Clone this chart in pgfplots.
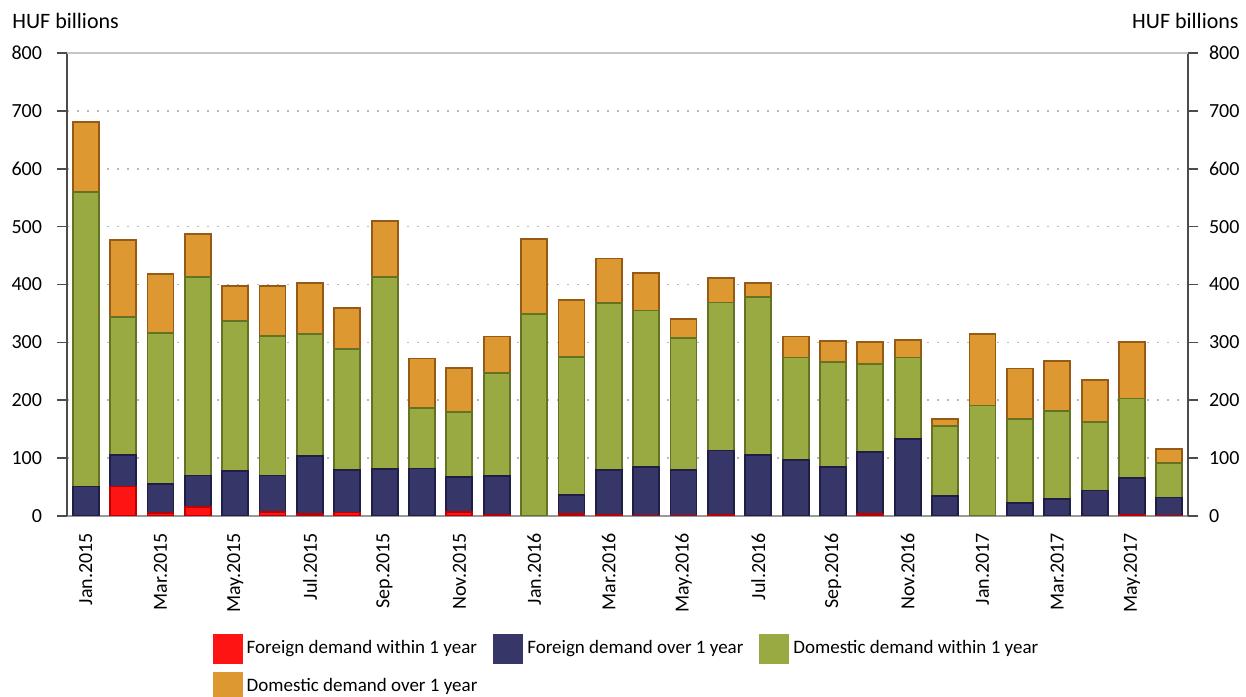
\documentclass[border=0pt]{standalone}
\usepackage{pgfplots}
\pgfplotsset{compat=1.18}
\usepackage{pgfplotstable}
\usepackage{fontspec}
\setmainfont{Carlito}

\definecolor{cred}{RGB}{255,20,20}
\definecolor{credd}{RGB}{190,0,0}
\definecolor{cnavy}{RGB}{55,54,104}
\definecolor{cnavyd}{RGB}{30,30,70}
\definecolor{cgreen}{RGB}{153,170,66}
\definecolor{cgreend}{RGB}{100,115,35}
\definecolor{corange}{RGB}{221,152,50}
\definecolor{coranged}{RGB}{150,90,20}

\pgfplotstableread{
x R N G O
0 0 51 509 121
1 51 54 239 133
2 5 50 261 102
3 16 54 343 74
4 0 78 259 60
5 7 63 241 87
6 3 101 210 89
7 6 74 209 70
8 0 81 332 97
9 0 82 105 85
10 7 60 112 77
11 2 67 178 63
12 0 0 349 129
13 3 33 239 98
14 2 78 288 77
15 1 83 271 65
16 1 79 228 32
17 2 111 256 42
18 0 105 274 24
19 0 97 177 36
20 0 85 181 37
21 4 107 152 37
22 0 133 141 30
23 0 35 121 11
24 0 0 191 124
25 0 23 145 87
26 0 29 152 87
27 0 44 119 72
28 2 63 138 97
29 1 31 59 25
}\data

\pgfplotsset{
  legsq/.style={legend image code/.code={\fill[##1,draw=none] (0pt,-7.5pt) rectangle (15pt,7.5pt);}},
}

\begin{document}
\begin{tikzpicture}
\begin{axis}[
  scale only axis, width=560.5pt, height=231.5pt,
  ybar stacked, bar width=13pt,
  xmin=-0.5, xmax=29.5, ymin=0, ymax=800,
  axis x line*=bottom, axis y line*=left,
  x axis line style={gray!80, line width=0.8pt},
  y axis line style={black!70, line width=1pt},
  xtick={0,2,...,28},
  xticklabels={Jan.2015,Mar.2015,May.2015,Jul.2015,Sep.2015,Nov.2015,Jan.2016,Mar.2016,May.2016,Jul.2016,Sep.2016,Nov.2016,Jan.2017,Mar.2017,May.2017},
  xticklabel style={rotate=90, anchor=east, font=\fontsize{10}{12}\selectfont, yshift=0pt},
  xtick style={draw=none},
  ytick={0,100,...,800},
  tick align=outside, major tick length=5pt,
  ytick style={black!70, line width=0.8pt},
  yticklabel style={font=\fontsize{10}{12}\selectfont, xshift=-4pt},
  /pgf/number format/assume math mode=true,
  ymajorgrids,
  grid style={gray!55, line width=0.8pt, dash pattern=on 0.8pt off 4.2pt},
  legend columns=3, legend cell align=left,
  legend style={draw=none, at={(0.5,-0.245)}, anchor=north,
    font=\fontsize{9.5}{11}\selectfont, row sep=4pt,
    /tikz/every even column/.append style={column sep=6pt}},
]
\addplot[fill=cred, draw=credd, line width=0.9pt, legsq] table[x=x,y=R] {\data};
\addlegendentry{Foreign demand within 1 year}
\addplot[fill=cnavy, draw=cnavyd, line width=0.9pt, legsq] table[x=x,y=N] {\data};
\addlegendentry{Foreign demand over 1 year}
\addplot[fill=cgreen, draw=cgreend, line width=0.9pt, legsq] table[x=x,y=G] {\data};
\addlegendentry{Domestic demand within 1 year}
\addplot[fill=corange, draw=coranged, line width=0.9pt, legsq] table[x=x,y=O] {\data};
\addlegendentry{Domestic demand over 1 year}
\coordinate (ll) at (rel axis cs:0,0);
\coordinate (ur) at (rel axis cs:1,1);
\coordinate (ul) at (rel axis cs:0,1);
\end{axis}
\begin{axis}[
  scale only axis, width=560.5pt, height=231.5pt,
  xmin=-0.5, xmax=29.5, ymin=0, ymax=800,
  axis x line=none, axis y line*=right,
  y axis line style={black!70, line width=1pt},
  ytick={0,100,...,800},
  tick align=outside, major tick length=5pt,
  ytick style={black!70, line width=0.8pt},
  yticklabel style={font=\fontsize{10}{12}\selectfont, xshift=2pt},
  /pgf/number format/assume math mode=true,
]
\end{axis}
\draw[gray!45, line width=0.8pt] (ul) -- (ur);
\node[anchor=west, xshift=-27.5pt, yshift=16pt, font=\fontsize{11}{13}\selectfont, inner sep=0pt] at (ul) {HUF billions};
\node[anchor=east, xshift=25.5pt, yshift=16pt, font=\fontsize{11}{13}\selectfont, inner sep=0pt] at (ur) {HUF billions};
\pgfresetboundingbox
\path ([xshift=-33.5pt,yshift=-90.5pt]ll) rectangle ([xshift=29pt,yshift=26.5pt]ur);
\end{tikzpicture}
\end{document}
